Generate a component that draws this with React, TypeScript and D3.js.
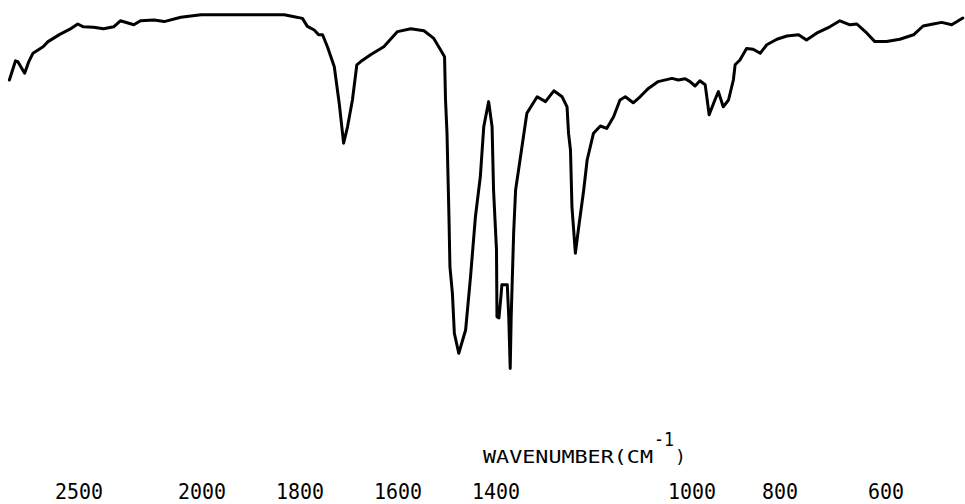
import React from 'react';
import * as d3 from 'd3';

// [wavenumber cm-1, transmittance %]
const spectrum: [number, number][] = [
  [2783, 80], [2758, 84.8], [2749, 84.6], [2721, 81.7], [2704, 84.6], [2687, 86.7],
  [2646, 88.3], [2626, 89.6], [2578, 91.4], [2537, 92.7], [2505, 94], [2482, 93.3],
  [2441, 93.2], [2400, 92.8], [2359, 93.3], [2332, 94.8], [2304, 94.3], [2277, 93.8],
  [2250, 94.8], [2195, 95], [2154, 94.6], [2086, 95.7], [2004, 96.3],
  [1934, 96.3], [1866, 96.3], [1832, 96.3], [1812, 95.8], [1795, 95.4], [1785, 93.4],
  [1771, 92.5], [1762, 91.3], [1754, 91.3], [1744, 88.3], [1730, 83.3], [1720, 74.2],
  [1711, 64.2], [1703, 68.3], [1693, 75], [1684, 83.8], [1676, 84.6], [1656, 86.3],
  [1629, 88.3], [1601, 92.1], [1574, 92.8], [1547, 92.3], [1527, 90.4], [1513, 87.5],
  [1505, 85.8], [1503, 75], [1500, 66.7], [1496, 45.8], [1494, 33.3], [1489, 26.7],
  [1485, 16.7], [1476, 11.7], [1462, 17.5], [1452, 30.8], [1442, 45.8], [1432, 55.8],
  [1425, 68.3], [1415, 74.6], [1408, 68.3], [1405, 52.5], [1399, 37.5], [1398, 20.8],
  [1394, 20.5], [1390, 25.8], [1388, 28.8], [1377, 28.8], [1374, 20.8], [1371, 7.9],
  [1369, 20.8], [1364, 41.7], [1360, 52.5], [1350, 60.8], [1337, 71.7], [1316, 75.8],
  [1299, 74.6], [1282, 77.3], [1265, 75.8], [1255, 73.3], [1252, 66.7], [1248, 62.5],
  [1245, 48.3], [1238, 36.7], [1232, 42.5], [1221, 52.5], [1214, 60], [1201, 66.7],
  [1187, 68.5], [1174, 67.9], [1160, 70.8], [1147, 75], [1136, 75.8], [1120, 74.3],
  [1106, 75.8], [1089, 77.9], [1069, 79.6], [1041, 80.4], [1028, 80], [1014, 80.3],
  [1004, 79.6], [993, 78.5], [982, 79.8], [970, 78.8], [961, 71.3], [948, 75],
  [940, 77.1], [929, 73.3], [917, 75], [906, 80], [902, 83.8], [891, 85],
  [876, 87.9], [861, 87.7], [845, 86.7], [830, 88.8], [807, 90.2], [787, 91],
  [765, 91.3], [750, 90], [731, 91.7], [706, 93.3], [687, 94.8], [668, 93.8],
  [655, 94], [636, 91.7], [621, 89.6], [599, 89.6], [574, 90.2], [548, 91.3],
  [530, 93.5], [511, 94], [495, 94.4], [476, 93.8], [455, 95.5],
];

const tickValues = [2500, 2000, 1800, 1600, 1400, 1000, 800, 600];
const axisTitle = 'WAVENUMBER(CM';
const axisUnitPower = '-1';

const mono = '"DejaVu Sans Mono", monospace';

export default function App() {
  const width = 965;
  const height = 504;

  // chart paper changes scale at 2000 and again below 1000
  const x = d3.scaleLinear()
    .domain([2500, 2000, 1000, 800, 600])
    .range([79, 202, 692, 780, 886]);
  const y = d3.scaleLinear().domain([0, 100]).range([400, 0]);

  const line = d3.line<[number, number]>()
    .x(d => x(d[0]))
    .y(d => y(d[1]));

  return (
    <svg width={width} height={height}
      style={{ position: 'absolute', left: 0, top: 0, background: '#fff' }}>
      <path d={line(spectrum) || ''} fill="none" stroke="#000" strokeWidth={3}
        strokeLinejoin="round" strokeLinecap="round" />

      {tickValues.map(t => (
        <text key={t} x={x(t)} y={499} textAnchor="middle" fontFamily={mono}
          fontSize={21} fill="#000" textLength={String(t).length * 12}
          lengthAdjust="spacingAndGlyphs">{t}</text>
      ))}

      <text fontFamily={mono} fill="#000" fontSize={18} x={483} y={463}>
        <tspan textLength={170} lengthAdjust="spacingAndGlyphs">{axisTitle}</tspan>
        <tspan x={654} y={446} fontSize={20} textLength={20}
          lengthAdjust="spacingAndGlyphs">{axisUnitPower}</tspan>
        <tspan x={675} y={463}>)</tspan>
      </text>
    </svg>
  );
}
